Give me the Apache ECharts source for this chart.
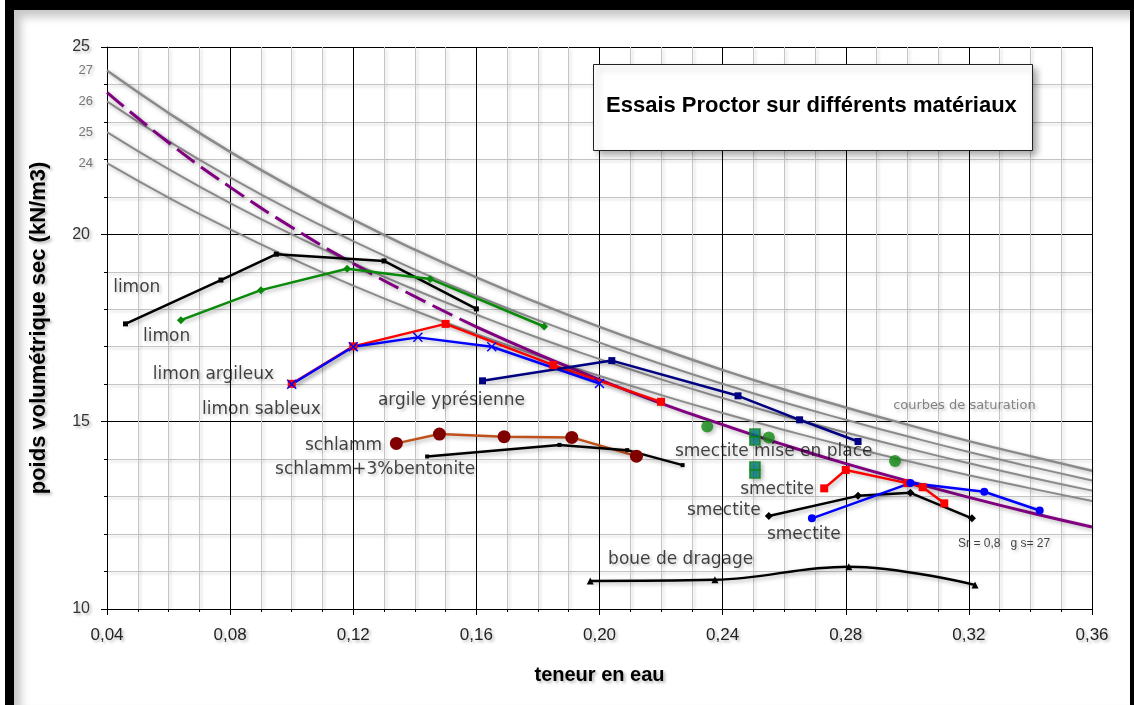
<!DOCTYPE html>
<html>
<head>
<meta charset="utf-8">
<script src="https://cdn.jsdelivr.net/npm/echarts@6/dist/echarts.min.js"></script>
<style>
html,body{margin:0;padding:0;background:#fff;overflow:hidden;}
#chart{position:absolute;left:0;top:0;width:1134px;height:705px;}
#frame{position:absolute;left:5px;top:0;width:1129px;height:705px;box-sizing:border-box;border-left:9px solid #000;border-top:10px solid #000;border-right:4px solid #000;pointer-events:none;box-shadow:inset 7px 7px 9px rgba(0,0,0,0.22);}
</style>
</head>
<body>
<div id="chart"></div>
<div id="frame"></div>
<script>
// ---- data ----
const wGrid = [0.04,0.06,0.08,0.10,0.12,0.14,0.16,0.18,0.20,0.22,0.24,0.26,0.28,0.30,0.32,0.34,0.36];
// saturation curves (Sr = 1) for gamma_s = 27, 26, 25, 24
const sat27 = [24.37,23.24,22.20,21.26,20.39,19.59,18.85,18.17,17.53,16.94,16.38,15.86,15.38,14.92,14.48,14.08,13.69];
const sat26 = [23.55,22.49,21.52,20.63,19.82,19.06,18.36,17.71,17.11,16.54,16.01,15.51,15.05,14.61,14.19,13.80,13.43];
const sat25 = [22.73,21.74,20.83,20.00,19.23,18.52,17.86,17.24,16.67,16.13,15.63,15.15,14.71,14.29,13.89,13.51,13.16];
const sat24 = [21.90,20.98,20.13,19.35,18.63,17.96,17.34,16.76,16.22,15.71,15.23,14.78,14.35,13.95,13.57,13.22,12.88];
// Sr = 0.8, gamma_s = 27
const sr08 = [23.79,22.45,21.26,20.19,19.22,18.34,17.53,16.80,16.12,15.49,14.92,14.38,13.88,13.42,12.98,12.57,12.19];
const satLabels = ['27','26','25','24'];

const limonBlack = [[0.046,17.61],[0.077,18.78],[0.095,19.47],[0.130,19.29],[0.160,18.01]];
const limonGreen = [[0.064,17.71],[0.090,18.51],[0.118,19.08],[0.145,18.81],[0.182,17.54]];
const limonArgileux = [[0.100,16.01],[0.120,17.01],[0.150,17.61],[0.185,16.51],[0.220,15.53]];
const limonSableux = [[0.100,16.00],[0.120,17.00],[0.141,17.25],[0.165,17.00],[0.200,16.02]];
const argileYpres = [[0.162,16.09],[0.204,16.63],[0.245,15.69],[0.265,15.05],[0.284,14.47]];
const schlamm = [[0.134,14.42],[0.148,14.67],[0.169,14.60],[0.191,14.58],[0.212,14.08]];
const schlammBent = [[0.144,14.07],[0.187,14.38],[0.209,14.24],[0.227,13.84]];
const smectMiseCircles = [[0.235,14.87],[0.255,14.58],[0.296,13.95]];
const smectMiseSquares = [[0.2505,14.70],[0.2505,14.48],[0.2505,13.82],[0.2505,13.60]];
const smectRed = [[0.273,13.22],[0.280,13.71],[0.300,13.36],[0.305,13.25],[0.312,12.82]];
const smectBlack = [[0.255,12.48],[0.284,13.02],[0.301,13.10],[0.321,12.42]];
const smectBlue = [[0.269,12.42],[0.301,13.36],[0.325,13.13],[0.343,12.63]];
const boueDragage = [[0.197,10.75],[0.2375,10.78],[0.281,11.13],[0.322,10.64]];

const xTicks = [0.04,0.08,0.12,0.16,0.20,0.24,0.28,0.32,0.36];
const yTicks = [10,15,20,25];

const annotations = [
  [0.042,18.57,'limon'],
  [0.0517,17.26,'limon'],
  [0.0549,16.25,'limon argileux'],
  [0.0709,15.31,'limon sableux'],
  [0.128,15.56,'argile yprésienne'],
  [0.1043,14.35,'schlamm'],
  [0.0946,13.71,'schlamm+3%bentonite'],
  [0.2245,14.20,'smectite mise en place'],
  [0.2457,13.18,'smectite'],
  [0.2284,12.62,'smectite'],
  [0.2544,11.98,'smectite'],
  [0.2028,11.31,'boue de dragage']
];
const noteSat = [[0.2954,15.42,'courbes de saturation']];
const noteSr = [[0.3165,11.74,'Sr = 0,8   g s= 27']];

// ---- chart ----
const pairs = arr => wGrid.map((w,i)=>[w,arr[i]]);
const shadowTxt = {textShadowColor:'rgba(0,0,0,0.28)',textShadowBlur:3,textShadowOffsetX:2,textShadowOffsetY:2};
const lineShadow = {shadowColor:'rgba(0,0,0,0.3)',shadowBlur:4,shadowOffsetX:2,shadowOffsetY:2};
const X_SYM = 'path://M0,1L1,0L5,4L9,0L10,1L6,5L10,9L9,10L5,6L1,10L0,9L4,5Z';

function dataLine(name, data, color, symbol, size, extra){
  return Object.assign({
    name, type:'line', data, smooth:false, symbol, symbolSize:size,
    lineStyle:Object.assign({color, width:2.5}, lineShadow),
    itemStyle:{color}, z:5, animation:false
  }, extra||{});
}
function satLine(name, arr, width){
  return {name, type:'line', data:pairs(arr), smooth:true, symbol:'none',
    lineStyle:Object.assign({color:'#8a8a8a', width}, lineShadow), z:3, animation:false};
}

const chart = echarts.init(document.getElementById('chart'));
const option = {
  animation:false,
  backgroundColor:'transparent',
  title:{text:'Essais Proctor sur différents matériaux', left:606, top:95, padding:0,
    textStyle:{fontSize:22,fontWeight:'bold',color:'#000',fontFamily:'Liberation Sans'}, z:20},
  graphic:[{type:'rect', left:593, top:64, z:15,
    shape:{width:439,height:86},
    style:{fill:'#fff',stroke:'#222',lineWidth:1,shadowBlur:7,shadowColor:'rgba(0,0,0,0.35)',shadowOffsetX:4,shadowOffsetY:4}}],
  grid:{left:107,right:42,top:47,bottom:96,containLabel:false},
  xAxis:{type:'value',min:xTicks[0],max:xTicks[xTicks.length-1],interval:0.04,
    name:'teneur en eau',nameLocation:'middle',nameGap:56,
    nameTextStyle:Object.assign({fontSize:20,fontWeight:'bold',color:'#000',fontFamily:'Liberation Sans'},shadowTxt),
    axisLine:{show:true,onZero:false,lineStyle:{color:'#000',width:1}},
    axisTick:{show:true,length:6,lineStyle:{color:'#000'}},
    minorTick:{show:true,splitNumber:4,length:3,lineStyle:{color:'#000'}},
    splitLine:{show:true,lineStyle:{color:'#000',width:1}},
    minorSplitLine:{show:true,lineStyle:{color:'#c4c4c4',width:1,shadowColor:'rgba(0,0,0,0.18)',shadowBlur:3,shadowOffsetX:2,shadowOffsetY:2}},
    axisLabel:Object.assign({fontSize:17,color:'#222',margin:18,fontFamily:'Liberation Sans',
      formatter:v=>v.toFixed(2).replace('.',',')},shadowTxt)},
  yAxis:{type:'value',min:yTicks[0],max:yTicks[yTicks.length-1],interval:5,
    name:'poids volumétrique sec (kN/m3)',nameLocation:'middle',nameGap:57,nameRotate:90,
    nameTextStyle:Object.assign({fontSize:22,fontWeight:'bold',color:'#000',fontFamily:'Liberation Sans'},shadowTxt),
    axisLine:{show:true,onZero:false,lineStyle:{color:'#000',width:1}},
    axisTick:{show:true,length:6,lineStyle:{color:'#000'}},
    minorTick:{show:true,splitNumber:5,length:3,lineStyle:{color:'#000'}},
    splitLine:{show:true,lineStyle:{color:'#000',width:1}},
    minorSplitLine:{show:true,lineStyle:{color:'#c4c4c4',width:1,shadowColor:'rgba(0,0,0,0.18)',shadowBlur:3,shadowOffsetX:2,shadowOffsetY:2}},
    axisLabel:Object.assign({fontSize:16,color:'#333',margin:17,fontFamily:'Liberation Sans'},shadowTxt)},
  series:[
    satLine('gs 27', sat27, 2.5),
    satLine('gs 26', sat26, 2),
    satLine('gs 25', sat25, 2),
    satLine('gs 24', sat24, 2),
    {name:'Sr 0,8 dashed',type:'line',data:pairs(sr08).slice(0,7),smooth:true,symbol:'none',
      lineStyle:Object.assign({color:'#800080',width:3,type:[22,8]},lineShadow),z:4},
    {name:'Sr 0,8',type:'line',data:pairs(sr08).slice(6),smooth:true,symbol:'none',
      lineStyle:Object.assign({color:'#800080',width:3},lineShadow),z:4},
    {name:'gs labels',type:'scatter',symbolSize:0,silent:true,z:6,
      data:[sat27,sat26,sat25,sat24].map((a,i)=>[wGrid[0],a[0],satLabels[i]]),
      label:Object.assign({show:true,position:'left',distance:14,formatter:p=>p.value[2],fontSize:13,color:'#555',fontFamily:'Liberation Sans'},shadowTxt)},
    dataLine('limon', limonBlack, '#000000', 'rect', 5),
    dataLine('limon (2)', limonGreen, '#0a8a0a', 'diamond', 8),
    dataLine('limon argileux', limonArgileux, '#ff0000', 'rect', 8),
    dataLine('limon sableux', limonSableux, '#0000ff', X_SYM, 10),
    dataLine('argile yprésienne', argileYpres, '#000080', 'rect', 7),
    dataLine('schlamm', schlamm, '#c0501a', 'circle', 13, {itemStyle:{color:'#800000'}}),
    dataLine('schlamm+3%bentonite', schlammBent, '#000000', 'rect', 4),
    dataLine('smectite rouge', smectRed, '#ff0000', 'rect', 8),
    dataLine('smectite noir', smectBlack, '#000000', 'diamond', 8),
    dataLine('smectite bleu', smectBlue, '#0000ff', 'circle', 8),
    dataLine('boue de dragage', boueDragage, '#000000', 'triangle', 7, {smooth:0.4}),
    {name:'smectite mise en place',type:'scatter',data:smectMiseCircles,symbol:'circle',symbolSize:12,
      itemStyle:Object.assign({color:'#138a13'},lineShadow),z:6},
    {name:'smectite mise en place (2)',type:'scatter',data:smectMiseSquares,symbol:'rect',symbolSize:[10,8],
      itemStyle:Object.assign({color:'#008080',borderColor:'#0a8a0a',borderWidth:1.5},lineShadow),z:6},
    {name:'annotations',type:'scatter',symbolSize:0,silent:true,z:8,data:annotations,
      label:Object.assign({show:true,position:'right',distance:0,formatter:p=>p.value[2],fontSize:17,color:'#111',fontFamily:'DejaVu Sans'},shadowTxt)},
    {name:'note saturation',type:'scatter',symbolSize:0,silent:true,z:8,data:noteSat,
      label:Object.assign({show:true,position:'right',distance:0,formatter:p=>p.value[2],fontSize:13,color:'#666',fontFamily:'DejaVu Sans'},shadowTxt)},
    {name:'note Sr',type:'scatter',symbolSize:0,silent:true,z:8,data:noteSr,
      label:Object.assign({show:true,position:'right',distance:0,formatter:p=>p.value[2],fontSize:12,color:'#111',fontFamily:'Liberation Sans'},shadowTxt)}
  ]
};
chart.setOption(option);
</script>
</body>
</html>
